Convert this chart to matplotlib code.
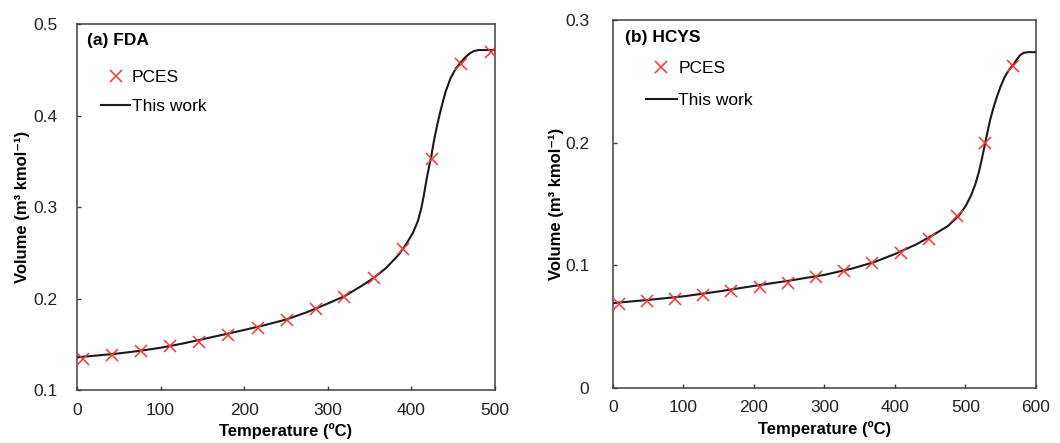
import matplotlib
matplotlib.use("Agg")
import matplotlib.pyplot as plt

plt.rcParams['font.family'] = ['Liberation Sans', 'DejaVu Sans']

# (a) FDA - PCES points
fda_t = [7, 42, 77, 111, 146, 181, 216, 251, 286, 320, 355, 390, 425, 460, 495]
fda_v = [0.134, 0.138, 0.143, 0.148, 0.153, 0.160, 0.168, 0.177, 0.189, 0.202,
         0.222, 0.254, 0.352, 0.456, 0.469]
# (a) FDA - this work curve
fda_line_t = [0, 25, 50, 75, 100, 125, 150, 175, 200, 225, 250, 275, 300, 320, 340,
              355, 370, 385, 395, 402, 408, 412, 415, 418, 421, 424, 427, 431, 436,
              441, 447, 453, 459, 465, 470, 475, 480, 490, 500]
fda_line_v = [0.1357, 0.1378, 0.1400, 0.1428, 0.1462, 0.1505, 0.1555, 0.1605, 0.1656,
              0.1710, 0.1770, 0.1850, 0.1945, 0.2025, 0.2135, 0.2225, 0.2335, 0.2480,
              0.2610, 0.2720, 0.2850, 0.2990, 0.3130, 0.3290, 0.3430, 0.3560, 0.3720,
              0.3900, 0.4090, 0.4260, 0.4410, 0.4510, 0.4580, 0.4640, 0.4680, 0.4705,
              0.4715, 0.4716, 0.4716]

# (b) HCYS - PCES points
hcys_t = [8, 48, 88, 128, 168, 208, 248, 288, 328, 368, 408, 448, 488, 528, 568]
hcys_v = [0.0684, 0.0711, 0.0728, 0.0760, 0.0793, 0.0823, 0.0855, 0.0904, 0.0950,
          0.1018, 0.1100, 0.1216, 0.1404, 0.1996, 0.2628]
# (b) HCYS - this work curve
hcys_line_t = [0, 50, 100, 150, 200, 250, 300, 340, 370, 400, 430, 455, 475, 490, 500,
               508, 514, 519, 523, 527, 531, 535, 540, 545, 550, 556, 562, 568, 573,
               578, 583, 590, 600]
hcys_line_v = [0.0692, 0.0718, 0.0747, 0.0787, 0.0832, 0.0875, 0.0922, 0.0975, 0.1025,
               0.1092, 0.1170, 0.1250, 0.1320, 0.1400, 0.1480, 0.1570, 0.1660, 0.1760,
               0.1860, 0.1970, 0.2080, 0.2185, 0.2290, 0.2380, 0.2460, 0.2540, 0.2595,
               0.2635, 0.2680, 0.2715, 0.2733, 0.2738, 0.2738]

fda_xticks = [0, 100, 200, 300, 400, 500]
fda_yticks = [0.1, 0.2, 0.3, 0.4, 0.5]
fda_ylabels = ['0.1', '0.2', '0.3', '0.4', '0.5']
hcys_xticks = [0, 100, 200, 300, 400, 500, 600]
hcys_yticks = [0, 0.1, 0.2, 0.3]
hcys_ylabels = ['0', '0.1', '0.2', '0.3']

fig = plt.figure(figsize=(10.6, 4.43), dpi=100)
ax1 = fig.add_axes([0.0726, 0.1196, 0.3943, 0.8262])
ax2 = fig.add_axes([0.5783, 0.1242, 0.3990, 0.8307])

# per-panel layout: ytick pad, ylabel pad, title pos, legend anchor, spacing, handle
panels = [
    (ax1, fda_t, fda_v, fda_line_t, fda_line_v, '(a) FDA', (0, 500), (0.1, 0.5),
     fda_xticks, fda_yticks, fda_ylabels, 14, 2, (0.024, 0.975), (0.042, 0.893), 0.8, 1.65),
    (ax2, hcys_t, hcys_v, hcys_line_t, hcys_line_v, '(b) HCYS', (0, 600), (0, 0.3),
     hcys_xticks, hcys_yticks, hcys_ylabels, 17, 0.5, (0.028, 0.973), (0.062, 0.907), 0.95, 1.75),
]

for (ax, t, v, lt, lv, title, xl, yl, xt, yt, ylab, ypad, lpad,
     tpos, lpos, lspace, hlen) in panels:
    ax.plot(t, v, linestyle='none', marker='x', color='#ff3333', markersize=8,
            markeredgewidth=1.1, label='PCES', zorder=3)
    ax.plot(lt, lv, color='#1a1a1a', linewidth=1.5, label='This work', zorder=2)
    ax.set_xlim(*xl)
    ax.set_ylim(*yl)
    ax.set_xticks(xt)
    ax.set_yticks(yt)
    ax.set_yticklabels(ylab)
    ax.tick_params(direction='in', length=3, width=1, colors='#404040',
                   labelcolor='#222222', labelsize=12.5)
    ax.tick_params(axis='x', pad=9)
    ax.tick_params(axis='y', pad=ypad)
    for s in ax.spines.values():
        s.set_color('#404040')
        s.set_linewidth(1.1)
    ax.set_xlabel('Temperature (ºC)', fontsize=12, fontweight='bold', labelpad=4)
    ax.set_ylabel('Volume (m³ kmol⁻¹)', fontsize=12, fontweight='bold', labelpad=lpad)
    ax.text(tpos[0], tpos[1], title, transform=ax.transAxes, fontsize=12.5,
            fontweight='bold', va='top', ha='left')
    ax.legend(loc='upper left', bbox_to_anchor=lpos, frameon=False,
              fontsize=12.5, handlelength=hlen, handletextpad=0.1, labelspacing=lspace,
              borderaxespad=0)

fig.savefig('out.png', dpi=100)
